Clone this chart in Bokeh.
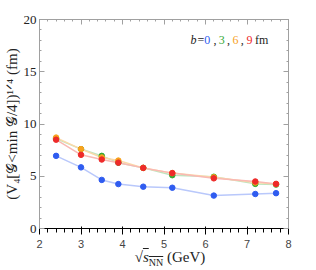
from bokeh.plotting import figure
from bokeh.models import Range1d, LinearAxis, Label, FixedTicker, Div
from bokeh.layouts import column
from bokeh.embed import file_html
from bokeh.resources import INLINE

energies = [2.4, 3.0, 3.5, 3.9, 4.5, 5.2, 6.2, 7.2, 7.7]
b0 = [6.95, 5.85, 4.65, 4.25, 4.0, 3.9, 3.15, 3.3, 3.38]
b3 = [8.6, 7.6, 6.95, 6.3, 5.8, 5.1, 4.95, 4.27, 4.2]
b6 = [8.7, 7.6, 6.8, 6.5, 5.8, 5.3, 4.9, 4.4, 4.25]
b9 = [8.5, 7.05, 6.6, 6.3, 5.8, 5.3, 4.8, 4.5, 4.27]
series = [("0", b0, "#2f5cf0", "#b9c8fb"),
          ("3", b3, "#34a934", "#bfe4bf"),
          ("6", b6, "#f7a21e", "#fbd9a8"),
          ("9", b9, "#ee2a2a", "#f9b9b4")]
x_ticks = [2, 3, 4, 5, 6, 7, 8]
y_ticks = [0, 5, 10, 15, 20]

FONT = "Times"
p = figure(width=300, height=250, output_backend="svg", toolbar_location=None,
           x_range=Range1d(2, 8), y_range=Range1d(0, 20),
           min_border_left=30, min_border_right=12, min_border_top=19, min_border_bottom=22)
p.background_fill_color = "white"
p.border_fill_color = "white"
p.outline_line_color = "#a0a0a0"
p.xgrid.visible = False
p.ygrid.visible = False
p.xaxis.ticker = FixedTicker(ticks=x_ticks, minor_ticks=[2 + 0.2 * i for i in range(31)])
p.yaxis.ticker = FixedTicker(ticks=y_ticks, minor_ticks=list(range(21)))
p.yaxis.axis_label = "(V\u2084[\U0001D4A2<min \U0001D4A2/4])\u00B9\u141F\u2074 (fm)"
p.yaxis.axis_label_text_font = FONT
p.yaxis.axis_label_text_font_style = "normal"
p.yaxis.axis_label_text_font_size = "15px"
p.yaxis.axis_label_text_color = "#222222"
p.yaxis.axis_label_standoff = 1

top = LinearAxis(ticker=p.xaxis.ticker)
right = LinearAxis(ticker=p.yaxis.ticker)
p.add_layout(top, "above")
p.add_layout(right, "right")
for ax in [p.xaxis[0], p.yaxis[0], top, right]:
    ax.axis_line_color = "#a0a0a0"
    ax.major_tick_line_color = "#a0a0a0"
    ax.minor_tick_line_color = "#a0a0a0"
    ax.major_tick_in = 5
    ax.major_tick_out = 0
    ax.minor_tick_in = 2
    ax.minor_tick_out = 0
    ax.major_label_text_font = FONT
    ax.major_label_text_font_size = "13px"
    ax.major_label_text_color = "#222222"
    ax.major_label_standoff = 3
p.xaxis[0].major_label_standoff = 0
for ax in [top, right]:
    ax.major_label_text_alpha = 0
    ax.major_label_text_font_size = "1px"
    ax.major_label_standoff = 0

for name, vals, c, lc in series:
    p.line(energies, vals, line_color=lc, line_width=1.5)
for name, vals, c, lc in series:
    p.scatter(energies, vals, size=5.5, fill_color=c, line_color=c)

# legend text
parts = [("b", 5.64, "#222222", "italic"), ("=", 5.81, "#222222", "normal"),
         ("0", 5.97, series[0][2], "normal"), (",", 6.19, "#222222", "normal"),
         ("3", 6.32, series[1][2], "normal"), (",", 6.52, "#222222", "normal"),
         ("6", 6.65, series[2][2], "normal"), (",", 6.85, "#222222", "normal"),
         ("9", 6.99, series[3][2], "normal"), ("fm", 7.19, "#222222", "normal")]
for t, x, c, st in parts:
    p.add_layout(Label(x=x, y=18.0, text=t, text_color=c, text_font=FONT,
                       text_font_style=st, text_font_size="12px",
                       text_baseline="middle", text_align="left"))

xlabel = Div(width=300, height=18, text=(
    "<div style=\"position:relative;top:-5px;width:300px;padding-left:30px;box-sizing:border-box;"
    "text-align:center;font-family:'Liberation Serif',Times,serif;font-size:15px;color:#222;"
    "line-height:12px\">"
    "&radic;<span style=\"text-decoration:overline\"><i>s</i><sub style=\"font-size:10px\">NN</sub></span>"
    "&nbsp;(GeV)</div>"))

layout = column(p, xlabel, spacing=0)
open("out.html", "w").write(file_html(layout, INLINE))
